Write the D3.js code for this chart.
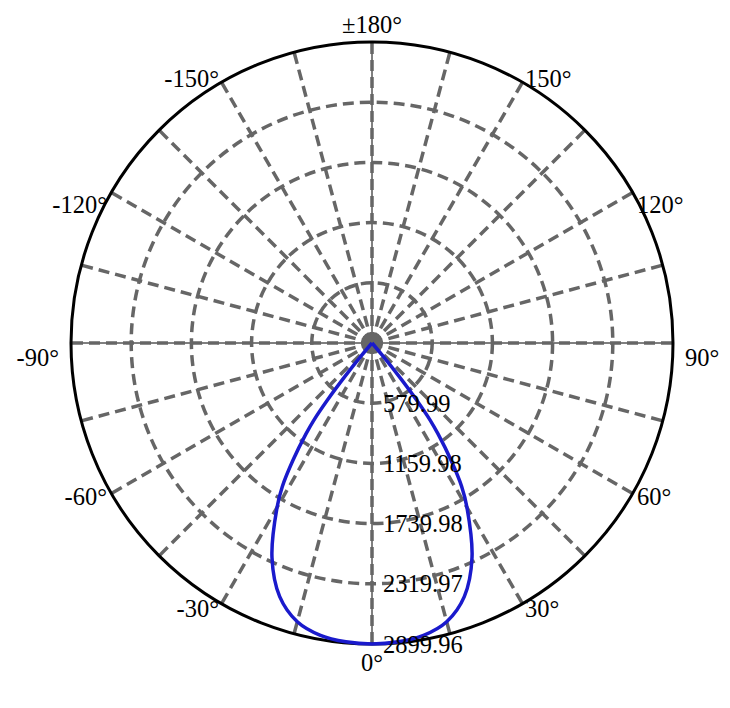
<!DOCTYPE html>
<html>
<head>
<meta charset="utf-8">
<script src="https://cdn.jsdelivr.net/npm/d3@7"></script>
<style>
  html, body { margin: 0; padding: 0; background: #fff; }
  svg { display: block; }
  text { font-family: "Liberation Serif", "DejaVu Serif", serif; font-size: 24.5px; fill: #000; }
</style>
</head>
<body>
<svg id="chart" width="730" height="708"></svg>
<script>
// ---- data ----
const ringValues = [579.99, 1159.98, 1739.98, 2319.97, 2899.96];
const ringLabels = ["579.99", "1159.98", "1739.98", "2319.97", "2899.96"];
const angleTicks = [0, 30, 60, 90, 120, 150, 180, -150, -120, -90, -60, -30];
const angleLabels = ["0°", "30°", "60°", "90°", "120°", "150°", "±180°", "-150°", "-120°", "-90°", "-60°", "-30°"];
const spokeAngles = d3.range(0, 360, 15);
// luminous intensity (cd) vs angle (deg)
const curveAngles = [-45, -42, -40, -39, -38, -37, -36, -34, -32, -30, -25, -20, -15, -10, -5, 0, 5, 10, 15, 20, 25, 30, 32, 34, 36, 37, 38, 39, 40, 42, 45];
const curveValues = [0, 0, 150, 420, 700, 930, 1080, 1360, 1630, 1830, 2280, 2600, 2780, 2860, 2890, 2899.96, 2890, 2860, 2780, 2600, 2280, 1830, 1630, 1360, 1080, 930, 700, 420, 150, 0, 0];

// ---- layout ----
const cx = 372, cy = 343, R = 301;
const svg = d3.select("#chart");
const g = svg.append("g").attr("transform", `translate(${cx},${cy})`);
const r = d3.scaleLinear().domain([0, 2899.96]).range([0, R]);
const rad = a => a * Math.PI / 180;
const px = (a, rr) => rr * Math.sin(rad(a));
const py = (a, rr) => rr * Math.cos(rad(a));

const grid = "#666666";

// axis cross (thin black)
g.append("line").attr("x1", -R).attr("x2", R).attr("y1", 0).attr("y2", 0)
  .attr("stroke", "#000").attr("stroke-width", 1);
g.append("line").attr("y1", -R).attr("y2", R).attr("x1", 0).attr("x2", 0)
  .attr("stroke", "#000").attr("stroke-width", 1);

// spokes
g.selectAll("line.spoke").data(spokeAngles).join("line")
  .attr("class", "spoke")
  .attr("x1", 0).attr("y1", 0)
  .attr("x2", d => px(d, R)).attr("y2", d => py(d, R))
  .attr("stroke", grid).attr("stroke-width", 3.5).attr("stroke-dasharray", "11,6");

// rings
g.selectAll("circle.ring").data(ringValues.slice(0, -1)).join("circle")
  .attr("class", "ring")
  .attr("r", d => r(d))
  .attr("fill", "none").attr("stroke", grid).attr("stroke-width", 3.5).attr("stroke-dasharray", "11,6");

// outer circle
g.append("circle").attr("r", r(ringValues[ringValues.length - 1]))
  .attr("fill", "none").attr("stroke", "#000").attr("stroke-width", 3);

// center dot
g.append("circle").attr("r", 10).attr("fill", grid);

// intensity curve
const line = d3.lineRadial()
  .angle((d, i) => Math.PI - rad(curveAngles[i]))
  .radius(d => r(d))
  .curve(d3.curveCatmullRom.alpha(0.5));
g.append("path").datum(curveValues)
  .attr("d", line)
  .attr("fill", "none").attr("stroke", "#1a1acc").attr("stroke-width", 3.5);

// ring labels
g.selectAll("text.rl").data(ringValues).join("text")
  .attr("class", "rl")
  .attr("x", 11).attr("y", d => r(d))
  .attr("dominant-baseline", "central")
  .text((d, i) => ringLabels[i]);

// angle labels
g.selectAll("text.al").data(angleTicks).join("text")
  .attr("class", "al")
  .each(function(a, i) {
    const s = Math.sin(rad(a));
    const pole = Math.abs(s) < 0.01;
    const rl = pole ? 319 : (Math.abs(a) === 90 ? 313 : 306);
    const dy = (Math.abs(a) >= 90 && Math.abs(a) <= 120) ? 14 : 0;
    d3.select(this)
      .attr("x", px(a, rl))
      .attr("y", py(a, rl) + dy)
      .attr("text-anchor", pole ? "middle" : (s > 0 ? "start" : "end"))
      .attr("dominant-baseline", "central")
      .text(angleLabels[i]);
  });
</script>
</body>
</html>
